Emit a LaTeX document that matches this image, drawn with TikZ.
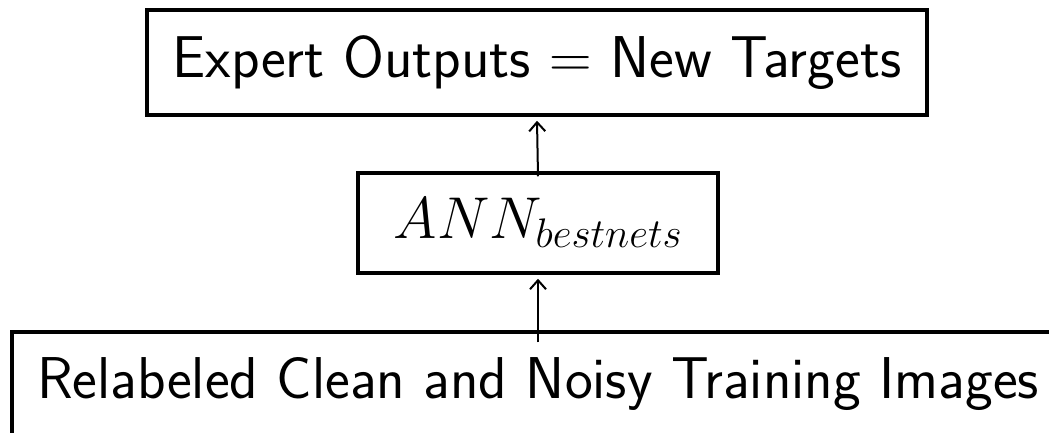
\RequirePackage{fix-cm}
\documentclass[tikz,border=0pt]{standalone}
\usetikzlibrary{arrows.meta}
\begin{document}
\begin{tikzpicture}[x=1pt,y=-1pt,
  stagebox/.style={draw, line width=3.5pt, inner sep=0pt, align=center,
    font=\fontsize{59}{66}\selectfont\sffamily},
  flow/.style={line width=2pt, -{Straight Barb[length=9pt,width=16pt,line width=2pt]}}]
  \useasboundingbox (0,0) rectangle (1049,432);
  % top stage
  \node[stagebox, minimum width=780pt, minimum height=105pt] (targets) at (537,62.5)
    {Expert Outputs $=$ New Targets};
  % network stage
  \node[stagebox, minimum width=360pt, minimum height=100pt] (net) at (538,223)
    {$ANN_{bestnets}$};
  % input stage, running past the lower and right edges
  \node[stagebox, minimum width=1052pt, minimum height=105pt] (images) at (538,384.5)
    {Relabeled Clean and Noisy Training Images};
  % connectors
  \draw[flow] ([yshift=-5pt]net.north) -- ([yshift=-4pt]targets.south);
  \draw[flow] ([yshift=-12pt]images.north) -- ([yshift=-4pt]net.south);
\end{tikzpicture}
\end{document}
